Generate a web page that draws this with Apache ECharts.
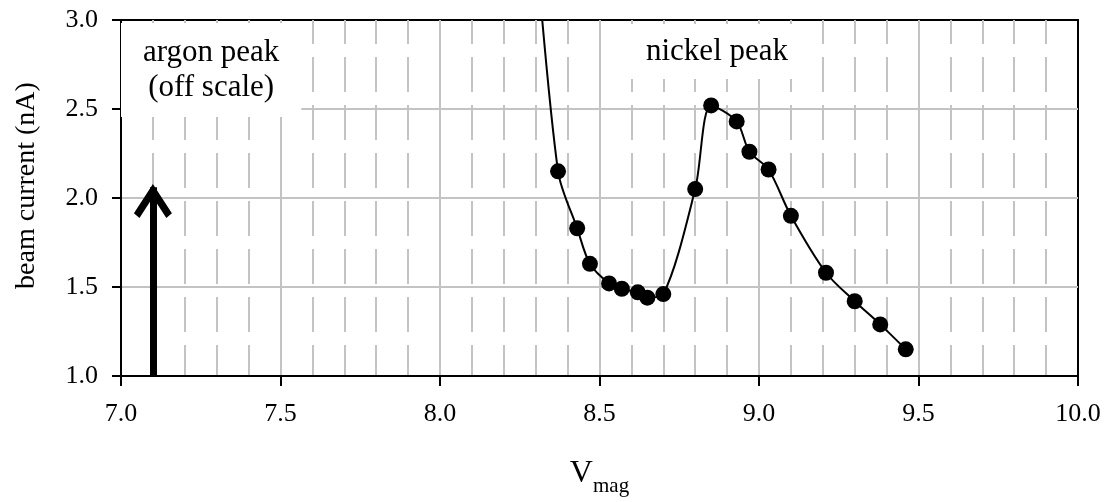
<!DOCTYPE html>
<html>
<head>
<meta charset="utf-8">
<script src="https://cdn.jsdelivr.net/npm/echarts@6/dist/echarts.min.js"></script>
<style>
  html, body { margin: 0; padding: 0; background: #fff; }
  #chart { width: 1107px; height: 502px; }
</style>
</head>
<body>
<div id="chart"></div>
<script>
// Magnet voltage scan through the nickel peak
const vmag = [8.37, 8.43, 8.47, 8.53, 8.57, 8.62, 8.65, 8.70, 8.80, 8.85, 8.93, 8.97, 9.03, 9.10, 9.21, 9.30, 9.38, 9.46];
const beamCurrent = [2.15, 1.83, 1.63, 1.52, 1.49, 1.47, 1.44, 1.46, 2.05, 2.52, 2.43, 2.26, 2.16, 1.90, 1.58, 1.42, 1.29, 1.15];
// the scan comes in from above the plotted current range
const leadIn = [8.29, 3.65];

// argon peak lies far above the scale: marked by an arrow
const argonVmag = 7.1;
const argonArrowSpan = [1.0, 2.06];

const xTickLabels = ['7.0', '7.5', '8.0', '8.5', '9.0', '9.5', '10.0'];
const yTickLabels = ['1.0', '1.5', '2.0', '2.5', '3.0'];
const xMin = 7, xMax = 10, yMin = 1, yMax = 3, step = 0.5;

const SERIF = "'Liberation Serif', 'Times New Roman', serif";
const GRID_GRAY = '#c3c3c3';

const points = vmag.map((v, i) => [v, beamCurrent[i]]);
const curveData = [{ value: leadIn, symbol: 'none' }].concat(points);

const chevron = 'path://M50 0 L100 76 L85.3 88 L50 34.7 L14.7 88 L0 76 Z';

const chart = echarts.init(document.getElementById('chart'), null, { renderer: 'canvas' });

chart.setOption({
  animation: false,
  backgroundColor: '#fff',
  grid: {
    left: 121, top: 20, width: 957, height: 360,
    show: true, borderColor: '#000', borderWidth: 2, backgroundColor: 'transparent'
  },
  xAxis: {
    type: 'value', min: xMin, max: xMax, interval: step,
    name: '{v|V}{s|mag}',
    nameLocation: 'middle', nameGap: 82,
    nameTextStyle: {
      rich: {
        v: { fontFamily: SERIF, fontSize: 32, lineHeight: 32, color: '#000', verticalAlign: 'top' },
        s: { fontFamily: SERIF, fontSize: 21, lineHeight: 21, color: '#000', verticalAlign: 'top', padding: [18, 0, 0, 0] }
      }
    },
    axisLine: { show: true, onZero: false, lineStyle: { color: '#000', width: 2 } },
    axisTick: { show: true, inside: false, length: 10, lineStyle: { color: '#000', width: 2 } },
    axisLabel: {
      margin: 25, fontFamily: SERIF, fontSize: 26, color: '#000',
      formatter: v => xTickLabels[Math.round((v - xMin) / step)]
    },
    splitLine: { show: true, showMinLine: false, showMaxLine: false, lineStyle: { color: GRID_GRAY, width: 2 } },
    minorTick: { show: false, splitNumber: 5 },
    minorSplitLine: { show: true, lineStyle: { color: GRID_GRAY, width: 2, type: [35, 13], dashOffset: 11 } }
  },
  yAxis: {
    type: 'value', min: yMin, max: yMax, interval: step,
    name: 'beam current (nA)',
    nameLocation: 'middle', nameGap: 80,
    nameTextStyle: { fontFamily: SERIF, fontSize: 28, color: '#000', padding: [0, 0, 0, 25] },
    axisLine: { show: true, onZero: false, lineStyle: { color: '#000', width: 2 } },
    axisTick: { show: true, inside: false, length: 9, lineStyle: { color: '#000', width: 2 } },
    axisLabel: {
      margin: 23, fontFamily: SERIF, fontSize: 26, color: '#000',
      formatter: v => yTickLabels[Math.round((v - yMin) / step)]
    },
    splitLine: { show: true, showMinLine: false, showMaxLine: false, lineStyle: { color: GRID_GRAY, width: 2 } }
  },
  graphic: [
    {
      type: 'text', z: 10, left: 121, top: 23,
      style: {
        text: 'argon peak\n(off scale)',
        font: '31px ' + SERIF, fill: '#000',
        align: 'center', textAlign: 'center',
        lineHeight: 35, backgroundColor: '#fff', padding: [12, 22, 12, 22]
      }
    },
    {
      type: 'text', z: 10, left: 622, top: 24,
      style: {
        text: 'nickel peak',
        font: '31px ' + SERIF, fill: '#000',
        lineHeight: 35, backgroundColor: '#fff', padding: [10, 24, 10, 24]
      }
    }
  ],
  series: [
    {
      name: 'beam current',
      type: 'line',
      data: curveData,
      smooth: 0.3,
      clip: true,
      symbol: 'circle',
      symbolSize: 16,
      itemStyle: { color: '#000' },
      lineStyle: { color: '#000', width: 2 },
      z: 5,
      markLine: {
        silent: true,
        animation: false,
        symbol: ['none', chevron],
        symbolSize: [38, 34],
        symbolOffset: [[0, 0], [0, '40%']],
        label: { show: false },
        lineStyle: { color: '#000', width: 7, type: 'solid' },
        data: [[
          { coord: [argonVmag, argonArrowSpan[0]] },
          { coord: [argonVmag, argonArrowSpan[1]] }
        ]]
      }
    }
  ]
});
</script>
</body>
</html>
